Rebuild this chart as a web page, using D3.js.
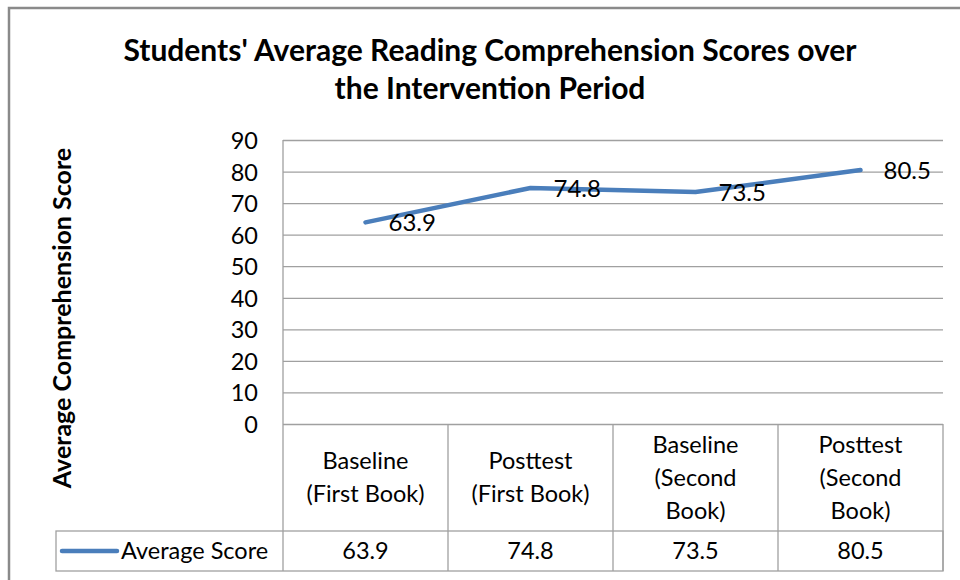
<!DOCTYPE html>
<html>
<head>
<meta charset="utf-8">
<script src="https://cdn.jsdelivr.net/npm/d3@7"></script>
<style>
  body { margin: 0; background: #fff; }
  text { font-family: Lato, "Open Sans", sans-serif; fill: #000; }
</style>
</head>
<body>
<script>
// Chart data
var categories = ["Baseline (First Book)", "Posttest (First Book)", "Baseline (Second Book)", "Posttest (Second Book)"];
var categoryLines = [["Baseline", "(First Book)"], ["Posttest", "(First Book)"], ["Baseline", "(Second", "Book)"], ["Posttest", "(Second", "Book)"]];
var scores = [63.9, 74.8, 73.5, 80.5];
var yTicks = [0, 10, 20, 30, 40, 50, 60, 70, 80, 90];
var seriesName = "Average Score";
var titleLines = ["Students' Average Reading Comprehension Scores over", "the Intervention Period"];
var yTitle = "Average Comprehension Score";

var width = 960, height = 580;
var plot = {left: 283, right: 943, top: 140, bottom: 424};
var table = {row1: 531, row2: 571, legendLeft: 56};
var blue = "#4a7ebb";
var gridColor = "#a0a0a0";
var fs = "23.5px";

var svg = d3.select("body")
.append("svg")
.attr("width", width)
.attr("height", height);

// outer chart border
svg.append("path")
.attr("d", "M9,580 V8 H960")
.attr("fill", "none")
.attr("stroke", "#8a8a8a")
.attr("stroke-width", 2.5);

// scales
var x_Scale = d3.scaleBand()
.domain(categories)
.range([plot.left, plot.right]);

var y_Scale = d3.scaleLinear()
.domain([0, 90])
.range([plot.bottom, plot.top]);

// gridlines
svg.append("g")
.attr("transform", `translate(${plot.left}, 0)`)
.call(d3.axisLeft(y_Scale).tickValues(yTicks).tickSize(-(plot.right - plot.left)).tickFormat(""))
.call(function(g) {
  g.select(".domain").remove();
  g.selectAll("line").attr("stroke", gridColor).attr("stroke-width", 1.3);
});

// y tick labels
svg.append("g")
.attr("transform", `translate(${plot.left}, 0)`)
.call(d3.axisLeft(y_Scale).tickValues(yTicks).tickSize(0).tickPadding(25))
.call(function(g) {
  g.select(".domain").remove();
  g.selectAll("text")
  .style("font-size", fs)
  .attr("fill", "#000")
  .attr("dy", "0.36em");
});

// table lines
var tbl = svg.append("g")
.attr("stroke", gridColor)
.attr("stroke-width", 1.3)
.attr("fill", "none");

tbl.append("line")
.attr("x1", plot.left).attr("x2", plot.left)
.attr("y1", plot.top).attr("y2", table.row2);

categories.forEach(function(c) {
  var xr = x_Scale(c) + x_Scale.bandwidth();
  tbl.append("line")
  .attr("x1", xr).attr("x2", xr)
  .attr("y1", plot.bottom).attr("y2", table.row2);
});

tbl.append("rect")
.attr("x", table.legendLeft)
.attr("y", table.row1)
.attr("width", plot.right - table.legendLeft)
.attr("height", table.row2 - table.row1);

// category labels in table
var catG = svg.append("g");
categories.forEach(function(c, i) {
  var lines = categoryLines[i];
  var cy = (plot.bottom + table.row1) / 2;
  var lh = 33;
  var t = catG.append("text")
  .attr("text-anchor", "middle")
  .style("font-size", fs)
  .attr("x", x_Scale(c) + x_Scale.bandwidth() / 2)
  .attr("y", cy - (lines.length - 1) * lh / 2);
  lines.forEach(function(l, j) {
    t.append("tspan")
    .attr("x", x_Scale(c) + x_Scale.bandwidth() / 2)
    .attr("dy", j === 0 ? "0.36em" : lh)
    .text(l);
  });
});

// values row
svg.append("g")
.selectAll("text")
.data(scores)
.join("text")
.attr("text-anchor", "middle")
.style("font-size", fs)
.attr("x", function(d, i) { return x_Scale(categories[i]) + x_Scale.bandwidth() / 2; })
.attr("y", (table.row1 + table.row2) / 2)
.attr("dy", "0.36em")
.text(function(d) { return d.toFixed(1); });

// legend key
var legendY = (table.row1 + table.row2) / 2;
svg.append("line")
.attr("x1", 62).attr("x2", 117)
.attr("y1", legendY).attr("y2", legendY)
.attr("stroke", blue)
.attr("stroke-width", 4.5)
.attr("stroke-linecap", "round");

svg.append("text")
.attr("x", 121)
.attr("y", legendY)
.attr("dy", "0.36em")
.style("font-size", fs)
.text(seriesName);

// line series
var lineGen = d3.line()
.x(function(d, i) { return x_Scale(categories[i]) + x_Scale.bandwidth() / 2; })
.y(function(d) { return y_Scale(d); });

svg.append("path")
.attr("d", lineGen(scores))
.attr("fill", "none")
.attr("stroke", blue)
.attr("stroke-width", 4.5)
.attr("stroke-linejoin", "round")
.attr("stroke-linecap", "round");

// data labels
svg.append("g")
.selectAll("text")
.data(scores)
.join("text")
.style("font-size", "24px")
.attr("x", function(d, i) { return x_Scale(categories[i]) + x_Scale.bandwidth() / 2 + 23; })
.attr("y", function(d) { return y_Scale(d); })
.attr("dy", "0.36em")
.text(function(d) { return d.toFixed(1); });

// title
svg.append("g")
.selectAll("text")
.data(titleLines)
.join("text")
.attr("text-anchor", "middle")
.style("font-size", "30px")
.style("font-weight", "bold")
.attr("x", 490)
.attr("y", function(d, i) { return 50 + i * 38; })
.attr("dy", "0.36em")
.text(function(d) { return d; });

// y axis title
svg.append("text")
.attr("transform", "translate(62, 318) rotate(-90)")
.attr("text-anchor", "middle")
.attr("dy", "0.36em")
.style("font-size", "25px")
.style("font-weight", "bold")
.text(yTitle);
</script>
</body>
</html>
